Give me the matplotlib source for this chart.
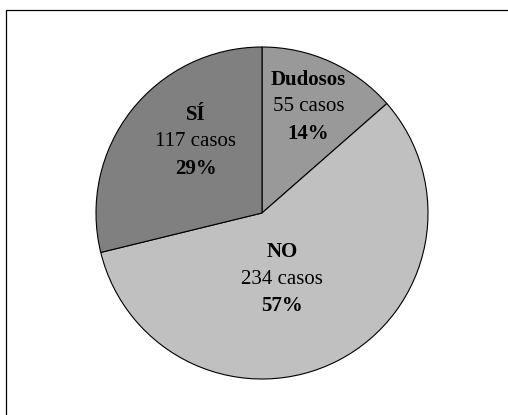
import matplotlib
matplotlib.use("Agg")
import matplotlib.pyplot as plt
from matplotlib.patches import Rectangle

# Survey answers
categories = ["Dudosos", "NO", "SÍ"]
counts = [55, 234, 117]
percents = [14, 57, 29]
colors = ["#999999", "#c0c0c0", "#808080"]

# label centres (pie radius = 1)
label_xy = [(0.28, 0.64), (0.12, -0.40), (-0.40, 0.43)]

plt.rcParams["font.family"] = ["Liberation Serif", "DejaVu Serif"]

W, H = 508, 415
fig = plt.figure(figsize=(W / 100, H / 100), dpi=100)
fig.patch.set_facecolor("white")

# outer frame, open on the right and bottom
fig.patches.append(Rectangle((6 / W, -0.05), 1.1, 1 - 10 / H + 0.05,
                             transform=fig.transFigure, fill=False,
                             edgecolor="black", linewidth=0.9))

cx, cy, r = 262, H - 213, 166
ax = fig.add_axes([(cx - r) / W, (cy - r) / H, 2 * r / W, 2 * r / H])
ax.pie(counts, colors=colors, startangle=90, counterclock=False, radius=1,
       wedgeprops=dict(edgecolor="black", linewidth=0.8))
ax.set_xlim(-1, 1)
ax.set_ylim(-1, 1)

step = 27 / r
for name, n, pct, (x, y) in zip(categories, counts, percents, label_xy):
    ax.text(x, y + step, name, ha="center", va="center", fontsize=15,
            fontweight="bold")
    ax.text(x, y, f"{n} casos", ha="center", va="center", fontsize=15)
    ax.text(x, y - step, f"{pct}%", ha="center", va="center", fontsize=15,
            fontweight="bold")

fig.savefig("out.png", dpi=100)
